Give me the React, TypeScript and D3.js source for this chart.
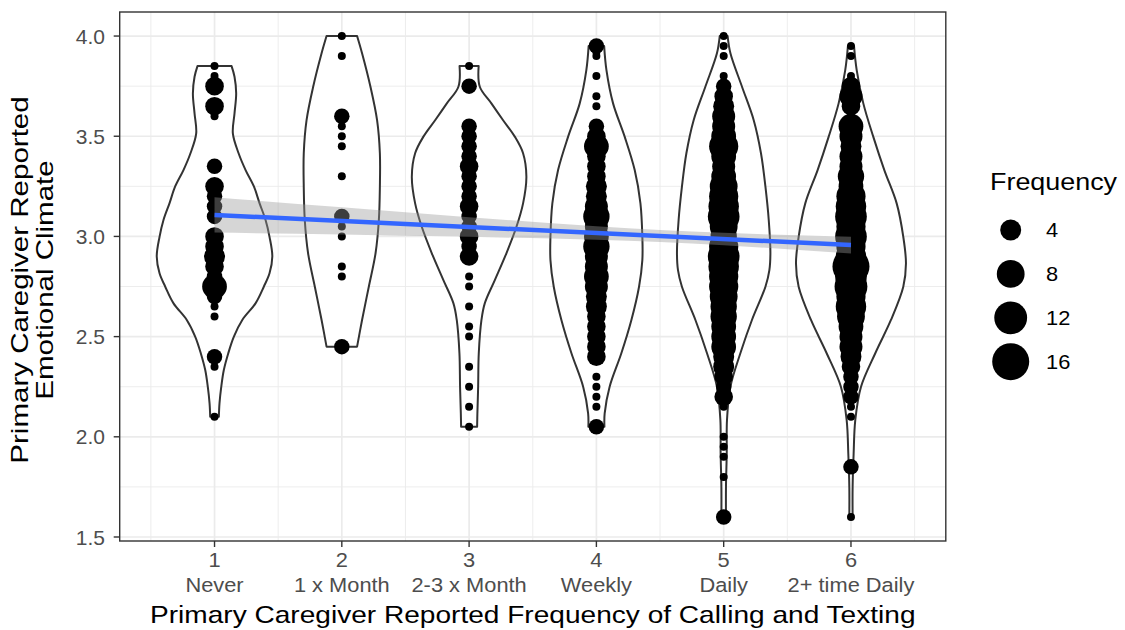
import React from 'react';
import * as d3 from 'd3';

// ---------- data ----------
const categories = [1, 2, 3, 4, 5, 6];
const categoryLabels = ['Never', '1 x Month', '2-3 x Month', 'Weekly', 'Daily', '2+ time Daily'];
const yTicks = [1.5, 2.0, 2.5, 3.0, 3.5, 4.0];
const yMinor = [1.75, 2.25, 2.75, 3.25, 3.75];
const xMinor = [0.5, 1.5, 2.5, 3.5, 4.5, 5.5, 6.5];
const legendBreaks = [4, 8, 12, 16];

// violin outlines: [emotional climate, half width in x units]
const violinNever: [number, number][] = [
  [3.85, 0.134], [3.797, 0.157], [3.714, 0.170], [3.614, 0.157], [3.514, 0.144], [3.415, 0.189],
  [3.331, 0.244], [3.248, 0.310], [3.165, 0.354], [3.082, 0.401], [2.998, 0.432], [2.9, 0.454],
  [2.816, 0.432], [2.749, 0.387], [2.666, 0.322], [2.583, 0.218], [2.5, 0.152], [2.417, 0.108],
  [2.333, 0.073], [2.25, 0.053], [2.167, 0.039], [2.1, 0.034],
];
const violinMonth: [number, number][] = [
  [4.0, 0.120], [3.914, 0.159], [3.747, 0.225], [3.58, 0.277], [3.415, 0.299], [3.248, 0.299],
  [3.082, 0.291], [2.916, 0.265], [2.749, 0.212], [2.583, 0.159], [2.45, 0.120],
];
const violinTwoThree: [number, number][] = [
  [3.85, 0.075], [3.747, 0.084], [3.664, 0.175], [3.58, 0.267], [3.498, 0.359], [3.415, 0.424],
  [3.298, 0.450], [3.165, 0.424], [3.048, 0.372], [2.916, 0.293], [2.782, 0.202], [2.666, 0.123],
  [2.583, 0.097], [2.417, 0.076], [2.25, 0.071], [2.117, 0.065], [2.05, 0.063],
];
const violinWeekly: [number, number][] = [
  [3.95, 0.061], [3.83, 0.079], [3.664, 0.131], [3.498, 0.222], [3.331, 0.301], [3.165, 0.346],
  [2.998, 0.361], [2.882, 0.361], [2.749, 0.335], [2.583, 0.275], [2.417, 0.196], [2.25, 0.104],
  [2.117, 0.065], [2.05, 0.063],
];
const violinDaily: [number, number][] = [
  [4.0, 0.031], [3.914, 0.053], [3.747, 0.144], [3.58, 0.236], [3.415, 0.293], [3.248, 0.328],
  [3.082, 0.354], [2.916, 0.367], [2.832, 0.359], [2.749, 0.328], [2.583, 0.222], [2.417, 0.131],
  [2.25, 0.053], [2.084, 0.026], [1.917, 0.024], [1.75, 0.018], [1.6, 0.018],
];
const violinTwoPlus: [number, number][] = [
  [3.95, 0.024], [3.83, 0.045], [3.664, 0.097], [3.498, 0.175], [3.331, 0.262], [3.165, 0.359],
  [2.998, 0.411], [2.865, 0.432], [2.749, 0.411], [2.583, 0.314], [2.417, 0.191], [2.25, 0.079],
  [2.084, 0.034], [1.917, 0.021], [1.75, 0.013], [1.6, 0.013],
];

// counted points: [emotional climate, frequency]
const pointsNever: [number, number][] = [
  [3.85, 1], [3.80, 1], [3.75, 3], [3.65, 3], [3.60, 1], [3.35, 2], [3.25, 3], [3.20, 2], [3.15, 2],
  [3.10, 2], [3.00, 3], [2.95, 3], [2.90, 4], [2.85, 3], [2.80, 2], [2.75, 6], [2.70, 2], [2.65, 1],
  [2.60, 1], [2.40, 2], [2.35, 1], [2.10, 1],
];
const pointsMonth: [number, number][] = [
  [4.00, 1], [3.90, 1], [3.60, 2], [3.55, 1], [3.50, 1], [3.45, 1], [3.30, 1], [3.10, 2], [3.05, 1],
  [3.00, 1], [2.85, 1], [2.80, 1], [2.45, 2],
];
const pointsTwoThree: [number, number][] = [
  [3.85, 1], [3.75, 2], [3.55, 2], [3.50, 2], [3.45, 2], [3.40, 2], [3.35, 3], [3.30, 2], [3.25, 2],
  [3.20, 2], [3.15, 3], [3.10, 2], [3.05, 2], [3.00, 3], [2.95, 2], [2.90, 3], [2.80, 1], [2.75, 1],
  [2.65, 1], [2.55, 1], [2.50, 1], [2.35, 1], [2.25, 1], [2.15, 1], [2.05, 1],
];
const pointsWeekly: [number, number][] = [
  [3.95, 2], [3.92, 1], [3.90, 1], [3.80, 1], [3.70, 1], [3.65, 1], [3.55, 2], [3.50, 3], [3.45, 6],
  [3.40, 3], [3.35, 3], [3.30, 3], [3.25, 4], [3.20, 4], [3.15, 5], [3.10, 7], [3.05, 5], [3.00, 6],
  [2.95, 7], [2.90, 5], [2.85, 5], [2.80, 6], [2.75, 5], [2.70, 4], [2.65, 4], [2.60, 3], [2.55, 3],
  [2.50, 3], [2.45, 3], [2.40, 3], [2.30, 1], [2.25, 1], [2.20, 1], [2.15, 1], [2.05, 2],
];
const pointsDaily: [number, number][] = [
  [4.00, 1], [3.95, 1], [3.90, 1], [3.80, 1], [3.75, 2], [3.70, 3], [3.65, 4], [3.60, 5], [3.55, 5],
  [3.50, 6], [3.45, 9], [3.40, 6], [3.35, 5], [3.30, 6], [3.25, 8], [3.20, 9], [3.15, 10], [3.10, 11],
  [3.05, 8], [3.00, 7], [2.95, 9], [2.90, 11], [2.85, 10], [2.80, 9], [2.75, 9], [2.70, 8], [2.65, 7],
  [2.60, 7], [2.55, 6], [2.50, 6], [2.45, 6], [2.40, 4], [2.35, 4], [2.30, 3], [2.25, 2], [2.20, 3],
  [2.15, 1], [2.00, 1], [1.95, 1], [1.90, 1], [1.80, 1], [1.60, 2],
];
const pointsTwoPlus: [number, number][] = [
  [3.95, 1], [3.90, 1], [3.80, 1], [3.75, 3], [3.70, 5], [3.65, 3], [3.60, 1], [3.55, 6], [3.50, 5],
  [3.45, 4], [3.40, 5], [3.35, 5], [3.30, 7], [3.25, 6], [3.20, 9], [3.15, 10], [3.10, 11], [3.05, 9],
  [3.00, 11], [2.95, 9], [2.90, 10], [2.85, 16], [2.80, 11], [2.75, 12], [2.70, 9], [2.65, 10],
  [2.60, 8], [2.55, 6], [2.50, 5], [2.45, 5], [2.40, 4], [2.35, 3], [2.30, 2], [2.25, 2], [2.20, 2],
  [2.15, 1], [2.10, 1], [1.85, 2], [1.60, 1],
];

// linear fit and its confidence band
const fitX = [1, 6];
const fitY = [3.107, 2.957];
const bandX = [1, 2, 3, 4, 5, 6];
const bandLow = [3.019, 3.010, 2.998, 2.983, 2.956, 2.915];
const bandHigh = [3.195, 3.145, 3.096, 3.051, 3.018, 2.999];

const violins = [violinNever, violinMonth, violinTwoThree, violinWeekly, violinDaily, violinTwoPlus];
const pointSets = [pointsNever, pointsMonth, pointsTwoThree, pointsWeekly, pointsDaily, pointsTwoPlus];

const FONT = '"Liberation Sans", Arial, Helvetica, sans-serif';

export default function App() {
  const W = 1125, H = 630;
  const left = 119.7, right = 945.8, top = 12, bottom = 541;
  const x = d3.scaleLinear().domain([0.255, 6.745]).range([left, right]);
  const y = d3.scaleLinear().domain([1.48, 4.12]).range([bottom, top]);
  const sizeScale = d3.scaleLinear().domain([0, Math.sqrt(15)]).range([4, 18.5]);
  const rad = (n: number) => sizeScale(Math.sqrt(n - 1));

  const violinPath = (c: number, prof: [number, number][]) =>
    d3.area<[number, number]>()
      .y(d => y(d[0]))
      .x0(d => x(c - d[1]))
      .x1(d => x(c + d[1]))
      .curve(d3.curveCatmullRom.alpha(0.5))(prof) || '';

  const band = d3.area<number>()
    .x((d, i) => x(bandX[i]))
    .y0((d, i) => y(bandLow[i]))
    .y1((d, i) => y(bandHigh[i]))
    .curve(d3.curveNatural)(bandX) || '';

  const fitLine = d3.line<number>()
    .x((d, i) => x(fitX[i]))
    .y((d, i) => y(fitY[i]))(fitX) || '';

  const grid = '#ebebeb';
  const dark = '#333333';

  return (
    <svg width={W} height={H} style={{ position: 'absolute', left: 0, top: 0, background: '#fff' }} fontFamily={FONT}>
      <rect x={0} y={0} width={W} height={H} fill="#fff" />
      {/* grid */}
      {yMinor.map(v => (
        <line key={'ym' + v} x1={left} x2={right} y1={y(v)} y2={y(v)} stroke={grid} strokeWidth={0.9} />
      ))}
      {xMinor.map(v => (
        <line key={'xm' + v} y1={top} y2={bottom} x1={x(v)} x2={x(v)} stroke={grid} strokeWidth={0.9} />
      ))}
      {yTicks.map(v => (
        <line key={'yg' + v} x1={left} x2={right} y1={y(v)} y2={y(v)} stroke={grid} strokeWidth={1.7} />
      ))}
      {categories.map(c => (
        <line key={'xg' + c} y1={top} y2={bottom} x1={x(c)} x2={x(c)} stroke={grid} strokeWidth={1.7} />
      ))}

      {/* violins */}
      {violins.map((prof, i) => (
        <path key={'v' + i} d={violinPath(categories[i], prof)} fill="#fff" stroke={dark} strokeWidth={2} strokeLinejoin="round" />
      ))}

      {/* points */}
      {pointSets.map((set, i) => (
        <g key={'p' + i}>
          {set.map(([v, n], j) => (
            <circle key={j} cx={x(categories[i])} cy={y(v)} r={rad(n)} fill="#000" />
          ))}
        </g>
      ))}

      {/* smooth */}
      <path d={band} fill="#999999" fillOpacity={0.4} />
      <path d={fitLine} fill="none" stroke="#3366FF" strokeWidth={4.5} />

      {/* panel border */}
      <rect x={left} y={top} width={right - left} height={bottom - top} fill="none" stroke={dark} strokeWidth={1.4} />

      {/* y axis */}
      {yTicks.map(v => (
        <g key={'yt' + v}>
          <line x1={left - 6} x2={left} y1={y(v)} y2={y(v)} stroke={dark} strokeWidth={1.4} />
          <text x={105} y={y(v)} dy="0.36em" textAnchor="end" fontSize={21} fill="#4d4d4d">{v.toFixed(1)}</text>
        </g>
      ))}
      {/* x axis */}
      {categories.map((c, i) => (
        <g key={'xt' + c}>
          <line x1={x(c)} x2={x(c)} y1={bottom} y2={bottom + 6} stroke={dark} strokeWidth={1.4} />
          <g transform={`translate(${x(c)},0) scale(1.12,1)`}>
            <text x={0} y={567} textAnchor="middle" fontSize={19.5} fill="#4d4d4d">{c}</text>
            <text x={0} y={592} textAnchor="middle" fontSize={19.5} fill="#4d4d4d">{categoryLabels[i]}</text>
          </g>
        </g>
      ))}

      {/* axis titles */}
      <text transform={`translate(${(left + right) / 2},623) scale(1.17,1)`} textAnchor="middle" fontSize={24} fill="#000">
        Primary Caregiver Reported Frequency of Calling and Texting
      </text>
      <text transform={`translate(28,280) rotate(-90) scale(1.23,1)`} textAnchor="middle" fontSize={24} fill="#000">
        Primary Caregiver Reported
      </text>
      <text transform={`translate(53,280) rotate(-90) scale(1.23,1)`} textAnchor="middle" fontSize={24} fill="#000">
        Emotional Climate
      </text>

      {/* legend */}
      <text transform="translate(990,190) scale(1.17,1)" fontSize={23} fill="#000">Frequency</text>
      {legendBreaks.map((b, i) => {
        const cy = 230 + i * 43.9;
        return (
          <g key={'lg' + b}>
            <circle cx={1010.7} cy={cy} r={rad(b)} fill="#000" />
            <text transform={`translate(1046,${cy}) scale(1.12,1)`} dy="0.36em" fontSize={19.5} fill="#000">{b}</text>
          </g>
        );
      })}
    </svg>
  );
}
